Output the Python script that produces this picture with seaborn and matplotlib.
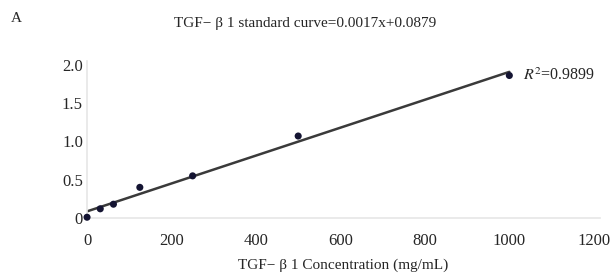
import numpy as np
import pandas as pd
import seaborn as sns
import matplotlib.pyplot as plt

# standard curve data
conc = [0, 31.25, 62.5, 125, 250, 500, 1000]
od = [0.01, 0.12, 0.18, 0.40, 0.55, 1.07, 1.86]
r2_text = "0.9899"
x_ticks = [0, 200, 400, 600, 800, 1000, 1200]
x_labels = ["0", "200", "400", "600", "800", "1000", "1200"]
y_ticks = [0, 0.5, 1.0, 1.5, 2.0]
y_labels = ["0", "0.5", "1.0", "1.5", "2.0"]

sns.set_style("white")
plt.rcParams['font.family'] = ['Liberation Serif', 'DejaVu Serif']
plt.rcParams['mathtext.fontset'] = 'stix'

data = pd.DataFrame({'conc': conc, 'od': od})

# linear trendline through the points
slope, intercept = np.polyfit(conc, od, 1)
fit = pd.DataFrame({'conc': [min(conc), max(conc)]})
fit['od'] = slope * fit['conc'] + intercept

fig = plt.figure(figsize=(6.13, 2.77), dpi=100)
ax = fig.add_axes([0.142, 0.213, 0.837, 0.567])

sns.lineplot(x='conc', y='od', data=fit, ax=ax, color='#3a3a3a', linewidth=1.8)
sns.scatterplot(x='conc', y='od', data=data, ax=ax, color='#141432', s=26,
                edgecolor='none', zorder=3, clip_on=False)

ax.set_xlim(0, 1215)
ax.set_ylim(0, 2.05)
ax.set_xticks(x_ticks)
ax.set_xticklabels(x_labels)
ax.set_yticks(y_ticks)
ax.set_yticklabels(y_labels)
ax.tick_params(axis='x', length=0, labelsize=12, pad=11)
ax.tick_params(axis='y', length=0, labelsize=12, pad=3)

for side in ['top', 'right']:
    ax.spines[side].set_visible(False)
for side in ['left', 'bottom']:
    ax.spines[side].set_color('#e6e6e6')
    ax.spines[side].set_linewidth(1.2)

ax.set_xlabel("TGF\u2212 \u03b2 1 Concentration (mg/mL)", fontsize=11, labelpad=7)
ax.set_ylabel("")

ax.text(1032, 1.86, r"$\it{R}^2$=" + r2_text, fontsize=11.5, va='center', ha='left')

fig.text(0.498, 0.915, "TGF\u2212 \u03b2 1 standard curve=0.0017x+0.0879",
         fontsize=11, ha='center', va='center')
fig.text(0.018, 0.935, "A", fontsize=11, ha='left', va='center')

plt.savefig('out.png', dpi=100)
